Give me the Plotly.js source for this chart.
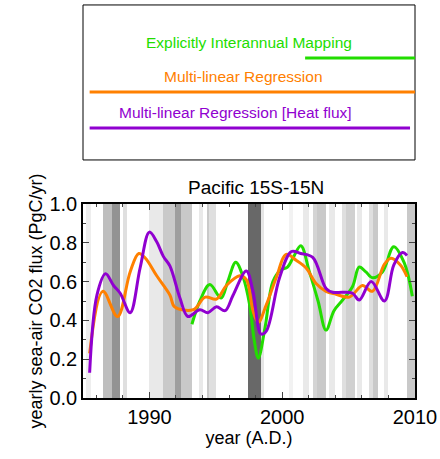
<!DOCTYPE html>
<html><head><script src="https://cdn.plot.ly/plotly-3.0.1.min.js"></script>
<style>body{margin:0}</style></head><body><div id="c" style="width:440px;height:459px"></div>
<script>
const greenX=[1993.2,1993.8,1994.55,1995.4,1995.9,1996.5,1997.05,1997.55,1997.9,1998.2,1998.7,1999.3,1999.9,2000.4,2000.8,2001.4,2002.05,2002.7,2003.3,2003.9,2004.55,2005.3,2005.8,2006.3,2006.8,2007.55,2008.4,2009.2,2009.8];
const greenY=[0.38,0.5,0.585,0.515,0.6,0.7,0.625,0.48,0.295,0.205,0.36,0.6,0.66,0.675,0.72,0.785,0.65,0.5,0.35,0.45,0.505,0.575,0.675,0.65,0.62,0.65,0.78,0.695,0.525];
const orangeX=[1985.5,1986.5,1987.6,1988.55,1989.2,1989.7,1990.55,1991.55,1991.9,1993.3,1994.2,1995.05,1995.8,1996.8,1997.3,1997.8,1998.2,1998.8,1999.55,2000.3,2001.05,2001.8,2002.55,2003.3,2004.05,2005.05,2006.05,2006.8,2007.7,2008.2,2008.9,2009.4];
const orangeY=[0.23,0.55,0.42,0.65,0.745,0.72,0.63,0.53,0.47,0.455,0.52,0.51,0.58,0.63,0.61,0.45,0.39,0.48,0.62,0.74,0.71,0.67,0.59,0.55,0.535,0.52,0.58,0.55,0.69,0.72,0.685,0.625];
const purpleX=[1985.5,1986.05,1986.7,1987.3,1987.8,1988.55,1989.3,1990,1990.55,1991.05,1991.55,1992.3,1992.9,1993.8,1994.4,1995.05,1995.7,1996.3,1997.3,1997.8,1998.4,1998.8,1999.8,2000.7,2001.4,2002.3,2003.3,2003.8,2004.55,2005.3,2005.8,2006.7,2007.7,2008.4,2009.05,2009.4];
const purpleY=[0.13,0.53,0.64,0.58,0.54,0.44,0.67,0.855,0.805,0.73,0.68,0.515,0.42,0.455,0.44,0.47,0.45,0.53,0.655,0.55,0.33,0.345,0.62,0.755,0.745,0.725,0.565,0.545,0.545,0.54,0.505,0.6,0.5,0.685,0.75,0.735];
// gray shading bands: start year, end year, shade intensity
const bandStart=[1985.2,1986.5,1987.2,1988.0,1990.0,1991.0,1991.9,1992.4,1993.7,1994.3,1994.5,1997.4,1998.4,2000.5,2001.6,2002.3,2002.6,2003.5,2004.5,2004.8,2005.6,2006.5,2006.8,2007.7,2009.4];
const bandEnd=[1985.6,1987.2,1987.8,1988.3,1991.0,1991.9,1992.4,1993.2,1994.0,1994.5,1995.0,1998.4,1998.6,2000.8,2002.0,2002.6,2003.3,2004.0,2004.8,2005.5,2006.0,2006.8,2007.2,2008.0,2010.0];
const bandShade=[0.08,0.3,0.5,0.15,0.1,0.25,0.45,0.25,0.1,0.25,0.15,0.7,0.12,0.06,0.1,0.2,0.25,0.1,0.15,0.22,0.1,0.15,0.25,0.1,0.25];
const bands={type:'bar',x:bandStart.map((s,i)=>(s+bandEnd[i])/2),width:bandStart.map((s,i)=>bandEnd[i]-s),
 y:bandStart.map(()=>1.0),base:0,marker:{color:bandShade.map(a=>`rgba(40,40,40,${a})`),line:{width:0}},hoverinfo:'skip'};
const ln=(x,y,c)=>({type:'scatter',mode:'lines',x,y,line:{color:c,width:3,shape:'spline'}});
const F='Liberation Sans, Arial';
const tf={family:F,size:18,color:'#000'};
const lf=c=>({family:F,size:15.5,color:c});
const layout={width:440,height:459,margin:{l:83,r:25,t:204,b:61},showlegend:false,plot_bgcolor:'#fff',paper_bgcolor:'#fff',bargap:0,
 font:{family:F,size:20,color:'#000'},
 title:{text:'Pacific 15S-15N',x:0.582,xanchor:'center',y:0.592,yanchor:'middle',font:{size:19}},
 xaxis:{range:[1985,2010],tickvals:[1990,2000,2010],ticks:'inside',ticklen:6,mirror:'ticks',showline:true,linecolor:'#000',linewidth:1.5,showgrid:false,zeroline:false,
   minor:{dtick:2,ticks:'inside',ticklen:3,tick0:1986},title:{text:'year (A.D.)',font:tf,standoff:2}},
 yaxis:{range:[0,1.0],tickvals:[0,0.2,0.4,0.6,0.8,1.0],ticktext:['0.0','0.2','0.4','0.6','0.8','1.0'],ticks:'inside',ticklen:6,mirror:'ticks',showline:true,linecolor:'#000',linewidth:1.5,showgrid:false,zeroline:false,
   minor:{dtick:0.1,ticks:'inside',ticklen:3},title:{text:'yearly sea-air CO2 flux (PgC/yr)',font:tf,standoff:2}},
 shapes:[
  {type:'rect',xref:'paper',yref:'paper',x0:0,x1:1,y0:1.227,y1:2.026,line:{color:'#000',width:1}},
  {type:'line',xref:'paper',yref:'paper',x0:0.669,x1:1,y0:1.753,y1:1.753,line:{color:'#22dd00',width:3}},
  {type:'line',xref:'paper',yref:'paper',x0:0.02,x1:1,y0:1.577,y1:1.577,line:{color:'#ff8000',width:3}},
  {type:'line',xref:'paper',yref:'paper',x0:0.02,x1:0.985,y0:1.392,y1:1.392,line:{color:'#9000d0',width:3}}],
 annotations:[
  {xref:'paper',yref:'paper',x:0.5,y:1.78,yanchor:'bottom',text:'Explicitly Interannual Mapping',showarrow:false,font:lf('#22dd00')},
  {xref:'paper',yref:'paper',x:0.482,y:1.605,yanchor:'bottom',text:'Multi-linear Regression',showarrow:false,font:lf('#ff8000')},
  {xref:'paper',yref:'paper',x:0.458,y:1.42,yanchor:'bottom',text:'Multi-linear Regression [Heat flux]',showarrow:false,font:lf('#9000d0')}]
};
Plotly.newPlot('c',[bands,ln(greenX,greenY,'#22dd00'),ln(orangeX,orangeY,'#ff8000'),ln(purpleX,purpleY,'#9000d0')],layout,{displayModeBar:false});
</script></body></html>
